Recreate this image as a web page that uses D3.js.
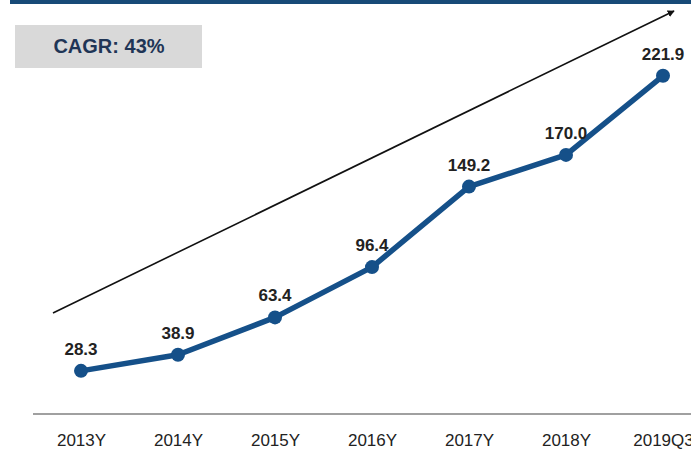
<!DOCTYPE html>
<html>
<head>
<meta charset="utf-8">
<script src="https://cdn.jsdelivr.net/npm/d3@7"></script>
<style>
  html, body { margin: 0; padding: 0; background: #ffffff; }
  svg { display: block; }
</style>
</head>
<body>
<svg id="chart" width="691" height="451"></svg>
<script>
// Periods and values for the growth line
const categories = ["2013Y", "2014Y", "2015Y", "2016Y", "2017Y", "2018Y", "2019Q3"];
const values = [28.3, 38.9, 63.4, 96.4, 149.2, 170.0, 221.9];
const valueLabels = ["28.3", "38.9", "63.4", "96.4", "149.2", "170.0", "221.9"];
const cagrText = "CAGR: 43%";

const W = 691, H = 451;
const svg = d3.select("#chart");
const font = "'Liberation Sans', Arial, Helvetica, sans-serif";

const x = d3.scalePoint().domain(categories).range([81, 663]);
const y = d3.scaleLinear().domain([0, 250]).range([414, 33]);

// Top banner stripe
svg.append("rect")
  .attr("x", 10).attr("y", 0).attr("width", W - 10).attr("height", 4)
  .attr("fill", "#174a77");

// CAGR badge
svg.append("rect")
  .attr("x", 15).attr("y", 25).attr("width", 187).attr("height", 43)
  .attr("fill", "#d9d9d9");
svg.append("text")
  .attr("x", 109).attr("y", 53)
  .attr("text-anchor", "middle")
  .attr("font-family", font).attr("font-weight", "bold").attr("font-size", 20)
  .attr("fill", "#1f3556")
  .text(cagrText);

// Trend arrow
const defs = svg.append("defs");
defs.append("marker")
  .attr("id", "arrowhead")
  .attr("viewBox", "0 0 10 10")
  .attr("refX", 9).attr("refY", 5)
  .attr("markerWidth", 7).attr("markerHeight", 7)
  .attr("markerUnits", "userSpaceOnUse")
  .attr("orient", "auto")
  .append("path").attr("d", "M0,0 L10,5 L0,10 z").attr("fill", "#111");
svg.append("line")
  .attr("x1", 53).attr("y1", 313).attr("x2", 674).attr("y2", 11)
  .attr("stroke", "#111").attr("stroke-width", 1.6)
  .attr("marker-end", "url(#arrowhead)");

// X axis
const xAxis = d3.axisBottom(x).tickSize(0).tickPadding(20);
const gx = svg.append("g").attr("transform", `translate(0,${y(0)})`).call(xAxis);
gx.select(".domain").remove();
gx.append("line")
  .attr("x1", 33).attr("x2", W).attr("y1", 0).attr("y2", 0)
  .attr("stroke", "#a0a0a0").attr("stroke-width", 2);
gx.selectAll(".tick text")
  .attr("font-family", font).attr("font-size", 17)
  .attr("fill", "#222");

// Line series
const line = d3.line().x((d, i) => x(categories[i])).y(d => y(d));
svg.append("path")
  .datum(values)
  .attr("d", line)
  .attr("fill", "none")
  .attr("stroke", "#155089")
  .attr("stroke-width", 5.5)
  .attr("stroke-linejoin", "round");

svg.selectAll("circle.pt")
  .data(values)
  .join("circle")
  .attr("class", "pt")
  .attr("cx", (d, i) => x(categories[i]))
  .attr("cy", d => y(d))
  .attr("r", 7)
  .attr("fill", "#155089");

// Value labels
svg.selectAll("text.val")
  .data(values)
  .join("text")
  .attr("class", "val")
  .attr("x", (d, i) => x(categories[i]))
  .attr("y", d => y(d) - 16)
  .attr("text-anchor", "middle")
  .attr("font-family", font).attr("font-weight", "bold").attr("font-size", 17)
  .attr("fill", "#222")
  .text((d, i) => valueLabels[i]);
</script>
</body>
</html>
